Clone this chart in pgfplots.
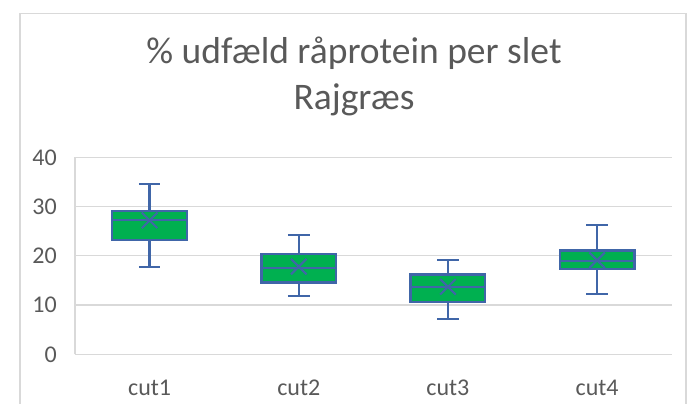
\documentclass[border=0pt]{standalone}
\usepackage{pgfplots}
\pgfplotsset{compat=1.18}
\usepackage{fontspec}
\setmainfont{Carlito}
\definecolor{txt}{HTML}{595959}
\definecolor{gridc}{HTML}{D9D9D9}
\definecolor{boxfill}{HTML}{00B050}
\definecolor{boxdraw}{HTML}{4066A8}
\begin{document}
\begin{tikzpicture}
\useasboundingbox (0pt,0pt) rectangle (689pt,404pt);
\draw[gridc, line width=1.2pt] (20pt,-10pt) -- (20pt,390.3pt) -- (686pt,390.3pt) -- (686pt,-10pt);
\node[anchor=base, text=txt, font=\fontsize{37.5}{42}\selectfont, inner sep=0pt] at (354pt,340.7pt) {\% udfæld råprotein per slet};
\node[anchor=base, text=txt, font=\fontsize{37.5}{42}\selectfont, inner sep=0pt] at (354pt,294pt) {Rajgræs};
\begin{axis}[
  at={(75pt,49.7pt)}, anchor=south west,
  scale only axis, width=596.7pt, height=197pt,
  xmin=-0.5, xmax=3.5, ymin=0, ymax=40,
  ytick={0,10,20,30,40},
  xtick={0,1,2,3}, xticklabels={cut1,cut2,cut3,cut4},
  axis x line=bottom, axis y line=left,
  axis line style={gridc, line width=1.3pt, -},
  ymajorgrids, grid style={gridc, line width=1.3pt},
  major tick length=0pt,
  tick label style={text=txt, font=\fontsize{24}{28}\selectfont},
  /pgf/number format/assume math mode=true,
  yticklabel style={anchor=east, inner sep=0pt, xshift=-18pt},
  xticklabel style={anchor=base, inner sep=0pt, yshift=-41pt},
  unbounded coords=jump,
  clip=false,
  boxst/.style={fill=boxfill, draw=boxdraw, line width=2.3pt},
  linest/.style={draw=boxdraw, line width=2.2pt, mark=none},
]
% cut1: lw 17.8, lq 23.2, med 27.3, uq 29.1, uw 34.6
\addplot[boxst] coordinates {(-0.25,23.2) (0.25,23.2) (0.25,29.1) (-0.25,29.1)} --cycle;
\addplot[linest] coordinates {(-0.0725,34.6) (0.0725,34.6) (0,nan) (0,34.6) (0,29.1) (0,nan) (0,23.2) (0,17.8) (0,nan) (-0.0725,17.8) (0.0725,17.8) (0,nan) (-0.25,27.3) (0.25,27.3)};
% cut2: lw 11.8, lq 14.6, med 17.6, uq 20.4, uw 24.3
\addplot[boxst] coordinates {(0.75,14.6) (1.25,14.6) (1.25,20.4) (0.75,20.4)} --cycle;
\addplot[linest] coordinates {(0.9275,24.3) (1.0725,24.3) (1,nan) (1,24.3) (1,20.4) (1,nan) (1,14.6) (1,11.8) (1,nan) (0.9275,11.8) (1.0725,11.8) (1,nan) (0.75,17.6) (1.25,17.6)};
% cut3: lw 7.1, lq 10.6, med 13.6, uq 16.2, uw 19.2
\addplot[boxst] coordinates {(1.75,10.6) (2.25,10.6) (2.25,16.2) (1.75,16.2)} --cycle;
\addplot[linest] coordinates {(1.9275,19.2) (2.0725,19.2) (2,nan) (2,19.2) (2,16.2) (2,nan) (2,10.6) (2,7.1) (2,nan) (1.9275,7.1) (2.0725,7.1) (2,nan) (1.75,13.6) (2.25,13.6)};
% cut4: lw 12.2, lq 17.3, med 18.9, uq 21.1, uw 26.2
\addplot[boxst] coordinates {(2.75,17.3) (3.25,17.3) (3.25,21.1) (2.75,21.1)} --cycle;
\addplot[linest] coordinates {(2.9275,26.2) (3.0725,26.2) (3,nan) (3,26.2) (3,21.1) (3,nan) (3,17.3) (3,12.2) (3,nan) (2.9275,12.2) (3.0725,12.2) (3,nan) (2.75,18.9) (3.25,18.9)};
% means
\addplot[only marks, mark=x, mark size=11pt, draw=boxdraw, mark options={line width=2pt}] coordinates {(0,27.2) (1,17.8) (2,13.7) (3,19.1)};
\end{axis}
\end{tikzpicture}
\end{document}
